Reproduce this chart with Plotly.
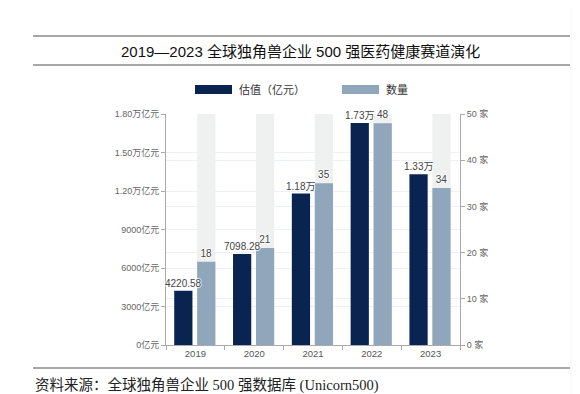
import plotly.graph_objects as go

# ---- data ----
years = ["2019", "2020", "2021", "2022", "2023"]
valuation = [4220.58, 7098.28, 11800, 17300, 13300]   # 亿元
counts = [18, 21, 35, 48, 34]                            # 家
val_ticks = [0, 3000, 6000, 9000, 12000, 15000, 18000]
cnt_ticks = [0, 10, 20, 30, 40, 50]
title_text = "2019—2023 全球独角兽企业 500 强医药健康赛道演化"
source_text = "资料来源：全球独角兽企业 500 强数据库 (Unicorn500)"
legend_names = ["估值（亿元）", "数量"]


def fmt_val(v):
    return f"{v/10000:.2f}万" if v >= 10000 else f"{v:g}"


def fmt_val_tick(v):
    return f"{v/10000:.2f}万亿元" if v >= 10000 else f"{v}亿元"


W, H = 580, 394
L, R, T, B = 158, 452, 106, 337  # plot area in pixels


def px(x):
    return (x - L) / (R - L)


def py(y):
    return (B - y) / (B - T)


DARK = "#0a2452"
LIGHT = "#8fa6bb"
BAND = "#eff0f0"
FONT = "Liberation Sans, Noto Sans CJK SC, sans-serif"
HALO = "1px 0 1px white, -1px 0 1px white, 0 1px 1px white, 0 -1px 1px white"

BAR_W = 0.31
DARK_OFF = -0.36
LIGHT_OFF = 0.03
cat_px = (R - L) / len(years)

fig = go.Figure()

# background bands behind the count bars
fig.add_trace(go.Bar(
    x=years, y=[max(cnt_ticks)] * len(years), yaxis="y2",
    marker=dict(color=BAND, line=dict(width=0)),
    width=BAR_W, offset=LIGHT_OFF, hoverinfo="skip", showlegend=False,
))
fig.add_trace(go.Bar(
    x=years, y=valuation, name=legend_names[0],
    marker=dict(color=DARK, line=dict(width=0)),
    width=BAR_W, offset=DARK_OFF, showlegend=False,
))
fig.add_trace(go.Bar(
    x=years, y=counts, name=legend_names[1], yaxis="y2",
    marker=dict(color=LIGHT, line=dict(width=0)),
    width=BAR_W, offset=LIGHT_OFF,
    text=[str(c) for c in counts], textposition="outside",
    constraintext="none",
    textfont=dict(size=10, color="#444", family=FONT, shadow=HALO),
    cliponaxis=False, showlegend=False,
))

fig.update_layout(
    width=W, height=H,
    margin=dict(l=L, r=W - R, t=T, b=H - B, pad=0),
    paper_bgcolor="white", plot_bgcolor="white",
    barmode="overlay",
    font=dict(family=FONT, color="#555"),
    showlegend=False,
    xaxis=dict(
        type="category", range=[-0.5, len(years) - 0.5],
        showline=True, linecolor="#aaa", linewidth=1,
        ticks="outside", tickson="boundaries", ticklen=4, tickcolor="#aaa",
        tickfont=dict(size=9.5, color="#555"), showgrid=False,
    ),
    yaxis=dict(
        range=[0, max(val_ticks)], tickvals=val_ticks,
        ticktext=[fmt_val_tick(v) for v in val_ticks],
        showline=True, linecolor="#aaa", linewidth=1,
        ticks="outside", ticklen=4, tickcolor="#aaa",
        tickfont=dict(size=9, color="#666"),
        showgrid=True, gridcolor="#edf0f5", gridwidth=1, zeroline=False,
    ),
    yaxis2=dict(
        range=[0, max(cnt_ticks)], tickvals=cnt_ticks,
        ticktext=[f"{c} 家" for c in cnt_ticks],
        overlaying="y", side="right",
        showline=True, linecolor="#aaa", linewidth=1,
        ticks="outside", ticklen=4, tickcolor="#aaa",
        tickfont=dict(size=9, color="#666"),
        showgrid=True, gridcolor="#edf0f5", gridwidth=1, zeroline=False,
    ),
)

shapes = []
# horizontal rules
for yy in (28, 57, 360):
    shapes.append(dict(type="line", xref="paper", yref="paper",
                       x0=px(25), x1=px(562), y0=py(yy), y1=py(yy),
                       line=dict(color="#8a8a8a", width=1.5)))
# legend swatches
shapes.append(dict(type="rect", xref="paper", yref="paper",
                   x0=px(187), x1=px(224), y0=py(86), y1=py(77),
                   fillcolor=DARK, line=dict(width=0)))
shapes.append(dict(type="rect", xref="paper", yref="paper",
                   x0=px(334), x1=px(371), y0=py(86), y1=py(77),
                   fillcolor=LIGHT, line=dict(width=0)))
# page-edge shading on the right
grays = ["#fbfbfb", "#f8f8f8", "#f5f5f5", "#f2f2f2", "#efefef", "#ececec", "#e9e9e9", "#e6e6e6"]
for i, g in enumerate(grays):
    x0 = 562 + i * 2.25
    shapes.append(dict(type="rect", xref="paper", yref="paper",
                       x0=px(x0), x1=px(x0 + 2.3), y0=py(0), y1=py(H),
                       fillcolor=g, line=dict(width=0), layer="above"))
fig.update_layout(shapes=shapes)

annotations = [
    dict(text=title_text, xref="paper", yref="paper", x=px(292), y=py(43),
         showarrow=False, xanchor="center", yanchor="middle",
         font=dict(size=15, color="#111", family=FONT)),
    dict(text=legend_names[0], xref="paper", yref="paper", x=px(229), y=py(81.5),
         showarrow=False, xanchor="left", yanchor="middle",
         font=dict(size=11, color="#333", family=FONT)),
    dict(text=legend_names[1], xref="paper", yref="paper", x=px(376), y=py(81.5),
         showarrow=False, xanchor="left", yanchor="middle",
         font=dict(size=11, color="#333", family=FONT)),
    dict(text=source_text, xref="paper", yref="paper", x=px(25), y=py(377),
         showarrow=False, xanchor="left", yanchor="middle",
         font=dict(size=14.5, color="#222", family="Liberation Serif, Noto Sans CJK SC, serif")),
]
# value labels for the valuation bars (drawn on top of everything)
for i, v in enumerate(valuation):
    annotations.append(dict(
        text=fmt_val(v), xref="x", yref="y", x=i + DARK_OFF + BAR_W / 2, y=v,
        yshift=0, showarrow=False,
        xanchor="center", yanchor="bottom",
        font=dict(size=10, color="#444", family=FONT, shadow=HALO),
    ))
fig.update_layout(annotations=annotations)

fig.write_html("out.html")
